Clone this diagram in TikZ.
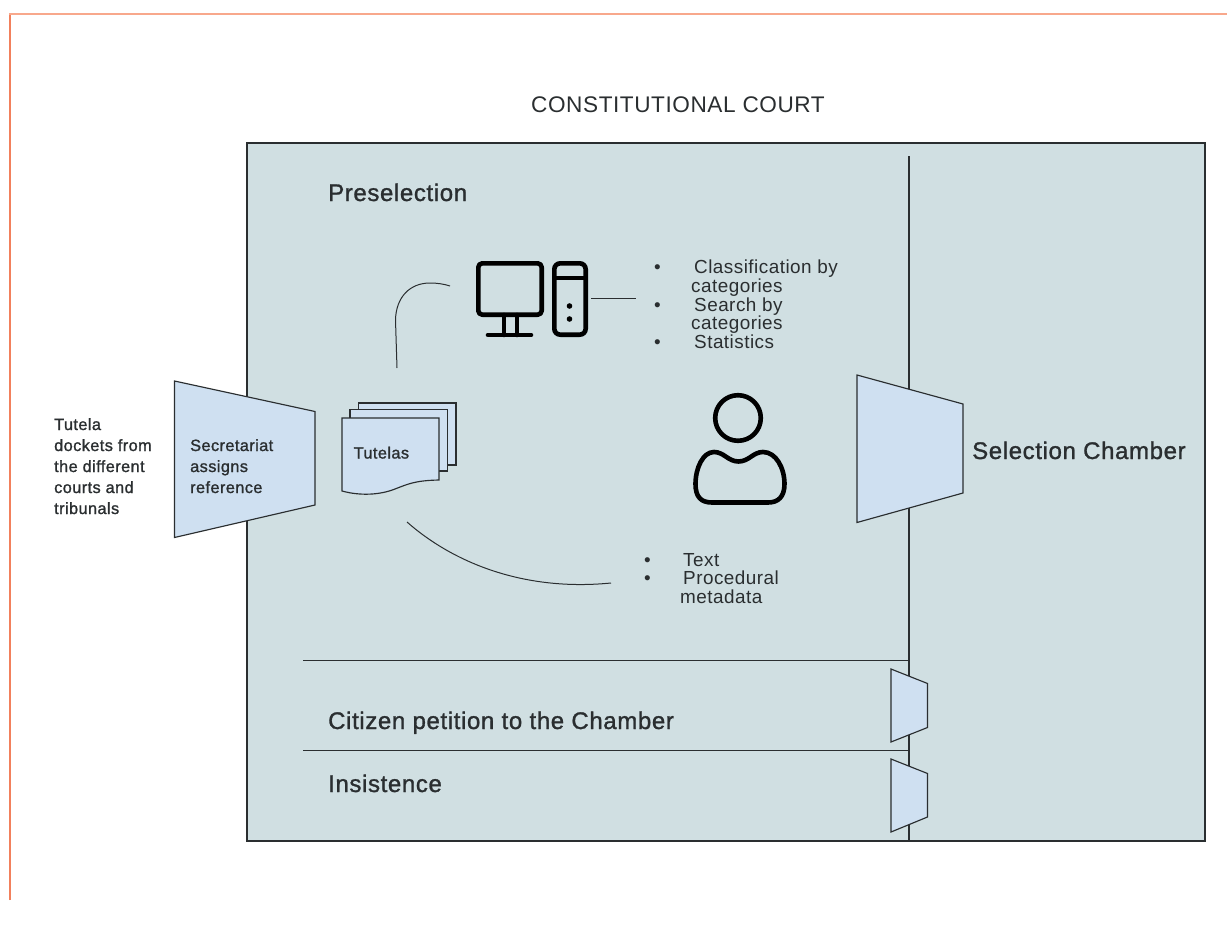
\documentclass[tikz,border=0pt]{standalone}
\usepackage{fontspec}
\setmainfont{Liberation Sans}
\newfontfamily\medf[FakeBold=1.2,LetterSpace=2.6]{Liberation Sans}
\newfontfamily\regf[LetterSpace=2.5]{Liberation Sans}
\definecolor{panel}{HTML}{D0DFE2}
\definecolor{boxfill}{HTML}{CFE0F1}
\definecolor{ink}{HTML}{2A2E30}
\definecolor{edgea}{HTML}{F8A88C}
\definecolor{edgeb}{HTML}{F2805C}
\tikzset{
 ln/.style={draw=ink,line width=1.15pt},
 shapefill/.style={fill=boxfill,draw=ink,line width=1.15pt,line join=miter},
 icon/.style={draw=black,line width=4.6pt,line join=round,line cap=round},
 conn/.style={draw=ink,line width=1pt},
 lab/.style={inner sep=0pt,anchor=base west,text=ink,align=left},
 big/.style={font=\medf\fontsize{24}{28}\selectfont},
 small/.style={font=\medf\fontsize{16.3}{21}\selectfont},
 bul/.style={font=\regf\fontsize{18.9}{18}\selectfont},
}
\begin{document}
\begin{tikzpicture}[x=1pt,y=-1pt]
\useasboundingbox (0,0) rectangle (1227,926);
\fill[white] (0,0) rectangle (1227,926);
\draw[edgeb,line width=2pt] (9.7,900) -- (9.7,14);
\draw[edgea,line width=1.6pt] (9,14) -- (1227,14);
\node[lab,font=\regf\fontsize{22.6}{27}\selectfont] (title) at (531,112.5) {CONSTITUTIONAL COURT};
\draw[ln,fill=panel] (247,143) rectangle (1205,841);
\draw[ln] (909,156) -- (909,841);
\draw[ln] (303,660.5) -- (909,660.5);
\draw[ln] (303,750.5) -- (909,750.5);
\node[lab,big] (pre) at (328,201) {Preselection};
\node[lab,big] (cit) at (328,729) {Citizen petition to the Chamber};
\node[lab,big] (ins) at (328,792) {Insistence};
\node[lab,big] (sel) at (972,459) {Selection Chamber};
% trapezoids
\draw[shapefill] (174.5,381) -- (315,411.5) -- (315,505) -- (174.5,537.5) -- cycle;
\draw[shapefill] (857,375) -- (963,404) -- (963,493) -- (857,522.5) -- cycle;
\draw[shapefill] (891,669) -- (927.5,683.5) -- (927.5,727.5) -- (891,742) -- cycle;
\draw[shapefill] (891,759) -- (927.5,773.5) -- (927.5,817) -- (891,832) -- cycle;
\node[lab,small] (tut) at (54,514) {Tutela\\dockets from\\the different\\courts and\\tribunals};
\node[lab,small] (sec) at (190,493) {Secretariat\\assigns\\reference};
% documents
\draw[shapefill] (358.5,403) rectangle (456,465);
\draw[shapefill] (350,409.5) rectangle (447.5,471);
\draw[shapefill] (342,418) -- (439,418) -- (439,480) .. controls (415,480.5) and (408,484) .. (395,489) .. controls (380,495) and (360,496) .. (342,491) -- cycle;
\node[lab,small] (tl) at (353.5,458.5) {Tutelas};
% computer
\draw[icon,rounded corners=4pt] (478.3,263.3) rectangle (541.7,314.7);
\draw[icon] (504,315) -- (504,335);
\draw[icon] (517,315) -- (517,335);
\draw[icon] (488,335) -- (531,335);
\draw[icon,rounded corners=6pt] (554.3,263.3) rectangle (585.7,334.7);
\draw[icon,line cap=butt] (554.3,278) -- (585.7,278);
\fill[black] (569.5,306) circle (2.8);
\fill[black] (569.5,319) circle (2.8);
% person
\draw[icon] (738,418) circle (22.8);
\draw[icon] (714,452) .. controls (724,452) and (728,461.5) .. (738.5,461.5) .. controls (749,461.5) and (753,452) .. (763,452) .. controls (776,452) and (784.5,468) .. (784.5,484) .. controls (784.5,497) and (778,502.5) .. (768,502.5) -- (712,502.5) .. controls (701,502.5) and (695.5,497) .. (695.5,484) .. controls (695.5,468) and (703,452) .. (714,452) -- cycle;
% connectors
\coordinate (c1a) at (397,368);
\coordinate (c1b) at (450,286);
\draw[conn] (c1a) -- (395.5,320) .. controls (396,297) and (410,283) .. (430,283) .. controls (437,283) and (444,284) .. (c1b);
\coordinate (c2a) at (591,298.5);
\coordinate (c2b) at (636,298.5);
\draw[conn] (c2a) -- (c2b);
\coordinate (c3a) at (407,522);
\coordinate (c3b) at (611,583);
\draw[conn] (c3a) .. controls (450,560) and (520,592) .. (c3b);
% bullets
\node[lab,bul] (b1) at (654,273.5) {•};
\node[lab,bul] (a1) at (694,273) {Classification by};
\node[lab,bul] (a2) at (691,292.5) {categories};
\node[lab,bul] (b2) at (654,311.5) {•};
\node[lab,bul] (a3) at (694,311.5) {Search by};
\node[lab,bul] (a4) at (691,329) {categories};
\node[lab,bul] (b3) at (654,348.5) {•};
\node[lab,bul] (a5) at (694,348) {Statistics};
\node[lab,bul] (b4) at (644,566.5) {•};
\node[lab,bul] (a6) at (683,566) {Text};
\node[lab,bul] (b5) at (644,584.5) {•};
\node[lab,bul] (a7) at (683,584) {Procedural};
\node[lab,bul] (a8) at (680,603) {metadata};
\end{tikzpicture}
\end{document}
